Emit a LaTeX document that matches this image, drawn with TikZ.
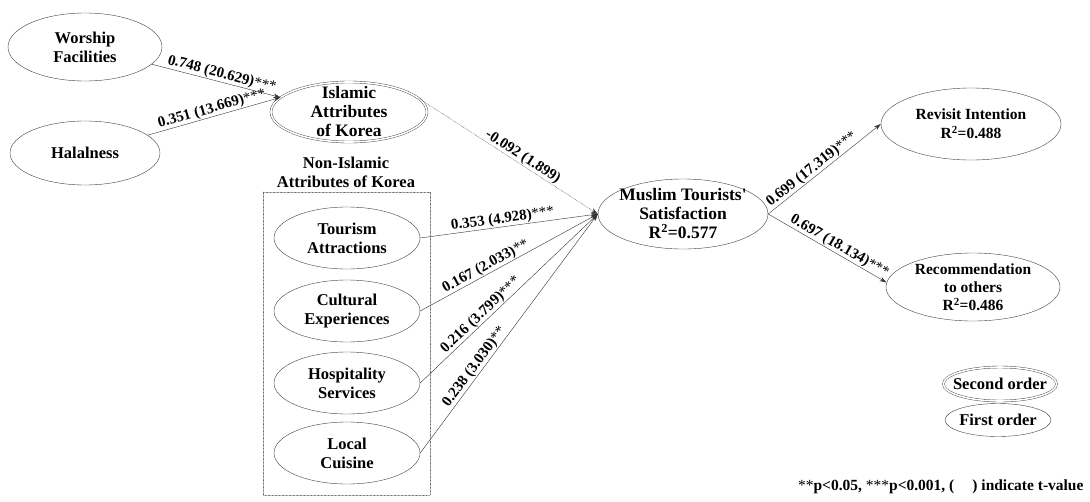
\documentclass[tikz,border=0pt]{standalone}
\usepackage{fontspec}
\setmainfont{Liberation Serif}
\usetikzlibrary{shapes.geometric,arrows.meta,positioning}
\newcommand{\sg}[1]{{\mdseries #1}}
\begin{document}
\begin{tikzpicture}[x=1pt,y=-1pt,>={Stealth[length=7pt,width=4.5pt]}, line join=round, line cap=round,
	lat/.style={ellipse,draw=black!75,thin,inner sep=0pt,align=center,font=\fontsize{16.5}{19}\selectfont\bfseries},
	latii/.style={lat,double,double distance=1.6pt},
	lnk/.style={->,draw=black!80,thin},
	coef/.style={sloped,above,inner sep=0.6pt,font=\fontsize{15}{17}\selectfont\bfseries}]
	\useasboundingbox (0,0) rectangle (1090,501);
	% Islamic attributes
	\node[lat,minimum width=154,minimum height=68] (wf) at (85,47) {Worship\\Facilities};
	\node[lat,minimum width=150,minimum height=64] (hal) at (85,153) {Halalness};
	\node[latii,minimum width=156,minimum height=60,inner ysep=-4pt,font=\fontsize{17.5}{19}\selectfont\bfseries] (isl) at (349,112) {Islamic\\Attributes\\of Korea};
	% Non-Islamic attributes
	\node[align=center,font=\fontsize{16.5}{19}\selectfont\bfseries] (nia) at (346,172) {Non-Islamic\\Attributes of Korea};
	\draw[densely dotted,black!70] (263,192) rectangle (430,495);
	\foreach \n/\y/\t in {ta/238/{Tourism\\Attractions},ce/311/{Cultural\\Experiences},hs/383/{Hospitality\\Services},lc/453/{Local\\Cuisine}}
		\node[lat,minimum width=146,minimum height=62] (\n) at (347,\y) {\t};
	% outcomes
	\node[lat,minimum width=170,minimum height=70,inner xsep=-10pt,inner ysep=-2pt,font=\fontsize{17.5}{19}\selectfont\bfseries] (mts) at (683,214) {Muslim Tourists\textquotesingle\\Satisfaction\\R\textsuperscript{2}=0.577};
	\node[lat,minimum width=180,minimum height=72,font=\fontsize{15.5}{19}\selectfont\bfseries] (ri) at (971,124) {Revisit Intention\\R\textsuperscript{2}=0.488};
	\node[lat,minimum width=174,minimum height=68,inner ysep=-2pt,font=\fontsize{15.5}{18}\selectfont\bfseries] (rec) at (973,287) {Recommendation\\to others\\R\textsuperscript{2}=0.486};
	% paths
	\draw[lnk] (wf) -- node[coef,pos=.53] {0.748 (20.629)\sg{***}} (isl.168);
	\draw[lnk] (hal) -- node[coef,pos=.5] {0.351 (13.669)\sg{***}} (isl.168);
	\draw[lnk,densely dotted] (isl.11) -- node[coef,pos=.56,inner sep=0pt] {-0.092 (1.899)} (mts.west);
	\foreach \n/\p/\lab in {ta/.47/{0.353 (4.928)\sg{***}},ce/.39/{0.167 (2.033)\sg{**}},hs/.37/{0.216 (3.799)\sg{***}},lc/.34/{0.238 (3.030)\sg{**}}}
		\draw[lnk] (\n.east) -- node[coef,pos=\p] {\lab} (mts.west);
	\draw[lnk] (mts.east) -- node[coef,pos=.43] {0.699 (17.319)\sg{***}} (ri.west);
	\draw[lnk] (mts.east) -- node[coef,pos=.57] {0.697 (18.134)\sg{***}} (rec.177);
	% legend
	\node[latii,minimum width=112,minimum height=34,inner xsep=-7pt] (so) at (1000,384) {Second order};
	\node[lat,minimum width=106,minimum height=33,inner xsep=-6pt] (fo) at (998,420) {First order};
	\node[anchor=east,font=\fontsize{15.5}{17}\selectfont\bfseries] (note) at (1087,487) {\sg{**}p<0.05, \sg{***}p<0.001,\ (\hspace{18pt}) indicate t-value};
\end{tikzpicture}
\end{document}
